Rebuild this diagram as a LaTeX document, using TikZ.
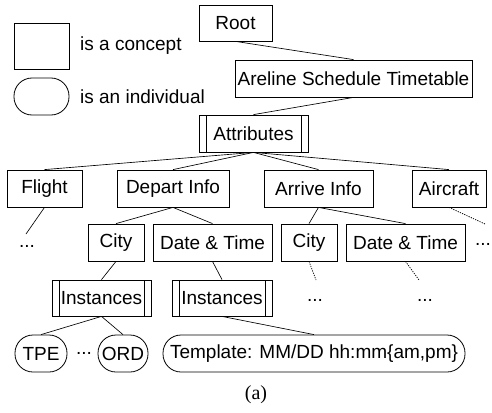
\documentclass[tikz,border=0pt]{standalone}
\usepackage{fontspec}
\setmainfont{Liberation Sans}
\newfontfamily\capfont{Liberation Serif}
\newcommand{\fs}{\fontsize{19}{22}\selectfont}
\tikzset{
  box/.style={draw, line width=0.8pt, inner sep=0pt, minimum height=37pt, font=\fs},
  dbox/.style={box, path picture={
      \draw[line width=0.8pt] ([xshift=7pt]path picture bounding box.north west) -- ([xshift=7pt]path picture bounding box.south west);
      \draw[line width=0.8pt] ([xshift=-7pt]path picture bounding box.north east) -- ([xshift=-7pt]path picture bounding box.south east);}},
  indiv/.style={box, rounded corners=18pt},
  lk/.style={line width=0.65pt},
  dlk/.style={line width=0.75pt, dash pattern=on 1.2pt off 1.2pt},
  lbl/.style={font=\fs, inner sep=0pt}
}
\begin{document}
\begin{tikzpicture}[x=1pt,y=-1pt]
\useasboundingbox (0,0) rectangle (492,412);
% legend
\node[box, minimum width=55pt, minimum height=46pt] (lrect) at (41.5,46) {};
\node[lbl, anchor=west] (ltext1) at (80,46) {is a concept};
\node[indiv, minimum width=55pt] (lell) at (41.5,96.5) {};
\node[lbl, anchor=west] (ltext2) at (80,96.5) {is an individual};
% tree
\node[box, minimum width=73pt, minimum height=36pt] (root) at (235.5,23) {Root};
\node[box, minimum width=237pt] (ast) at (353.5,78.5) {Areline Schedule Timetable};
\node[dbox, minimum width=109pt] (attr) at (253.5,133.5) {Attributes};
\node[box, minimum width=75pt] (flight) at (44.5,188.5) {Flight};
\node[box, minimum width=112pt] (depart) at (173,188.5) {Depart Info};
\node[box, minimum width=109pt] (arrive) at (318.5,188.5) {Arrive Info};
\node[box, minimum width=74pt] (aircraft) at (449,188.5) {Aircraft};
\node[box, minimum width=56pt] (city1) at (116,242.5) {City};
\node[box, minimum width=119pt] (dt1) at (212.5,242.5) {Date \& Time};
\node[box, minimum width=56pt] (city2) at (309,242.5) {City};
\node[box, minimum width=119pt] (dt2) at (405.5,242.5) {Date \& Time};
\node[dbox, minimum width=99pt, minimum height=36pt] (inst1) at (101.5,298) {Instances};
\node[dbox, minimum width=100pt, minimum height=36pt] (inst2) at (222,298) {Instances};
\node[indiv, minimum width=52pt] (tpe) at (41,353.5) {TPE};
\node[indiv, minimum width=50pt] (ord) at (123,353.5) {ORD};
\node[indiv, minimum width=302pt] (tmpl) at (314,353.5) {Template: MM/DD hh:mm\{am,pm\}};
% dots
\node[lbl] (dflight) at (27,246) {...};
\node[lbl] (daircraft) at (483,244) {...};
\node[lbl] (dcity2) at (315,300) {...};
\node[lbl] (ddt2) at (425,300) {...};
\node[lbl] (dtpe) at (84,353) {...};
% free ends
\coordinate (eflight) at (26,234);
\coordinate (eaircraft) at (485,224);
\coordinate (ecity2) at (316,280);
\coordinate (edt2) at (419,280);
% connectors
\draw[lk] (root.south) -- (ast.north);
\draw[lk] (ast.south) -- (attr.north);
\foreach \n in {flight,depart,arrive,aircraft} \draw[lk] (attr.south) -- (\n.north);
\draw[lk] (depart.south) -- (city1.north);
\draw[lk] (depart.south) -- (dt1.north);
\draw[lk] (arrive.south) -- (city2.north);
\draw[lk] (arrive.south) -- (dt2.north);
\draw[lk] (city1.south) -- (inst1.north);
\draw[lk] (dt1.south) -- (inst2.north);
\draw[lk] (inst1.south) -- (tpe.north);
\draw[lk] (inst1.south) -- (ord.north);
\draw[lk] (inst2.south) -- (tmpl.north);
\draw[lk] (flight.south) -- (eflight);
\draw[dlk] (aircraft.south) -- (eaircraft);
\draw[dlk] (city2.south) -- (ecity2);
\draw[dlk] (dt2.south) -- (edt2);
% caption
\node[font=\capfont\fontsize{20}{23}\selectfont, inner sep=0pt] (cap) at (256,395) {(a)};
\end{tikzpicture}
\end{document}
